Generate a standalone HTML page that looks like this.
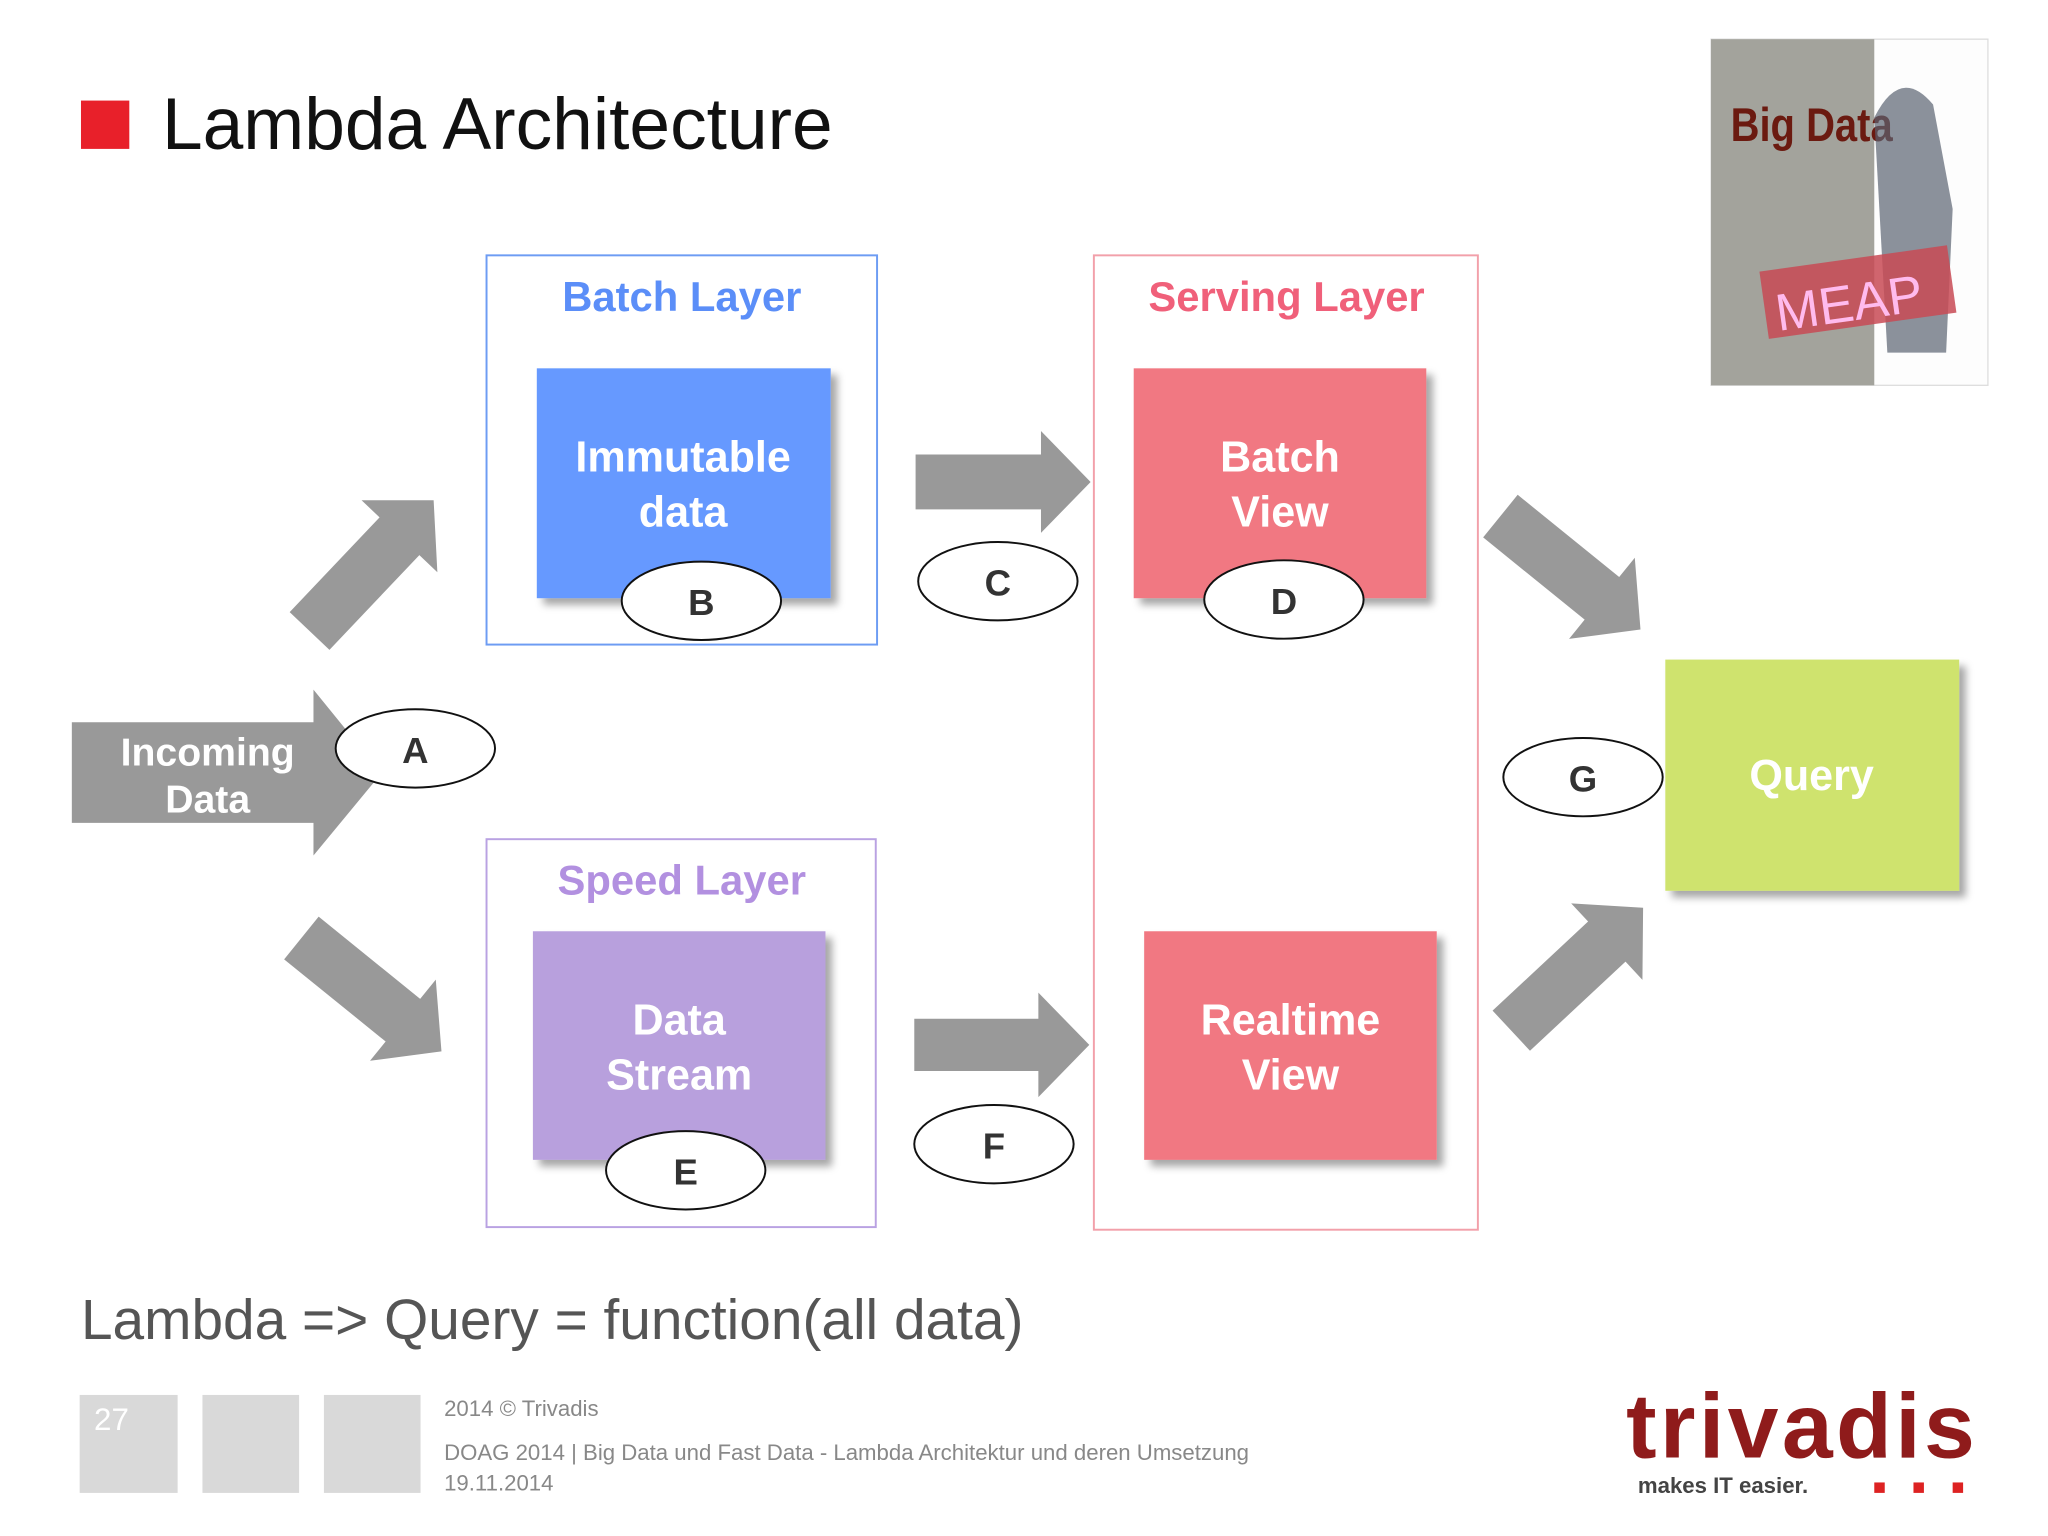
<!DOCTYPE html>
<html><head><meta charset="utf-8"><style>
html,body{margin:0;padding:0;background:#fff;}
svg{display:block;}
</style></head><body>
<svg width="2048" height="1536" viewBox="0 0 1568 1176" xmlns="http://www.w3.org/2000/svg" font-family="Liberation Sans, sans-serif">
<defs>
<filter id="sh" x="-10%" y="-10%" width="130%" height="130%"><feDropShadow dx="5" dy="5" stdDeviation="3" flood-color="#000" flood-opacity="0.35"/></filter>
<polygon id="ar" points="-138,-21 -38,-21 -38,-40 0,0 -38,40 -38,21 -138,21"/>
</defs>
<rect width="1568" height="1176" fill="#fff"/>
<rect x="62" y="77" width="37" height="37" fill="#e8202a"/>
<text x="124" y="114" font-size="56" fill="#111">Lambda Architecture</text>

<!-- book -->
<rect x="1310" y="30" width="212" height="265" fill="#fdfdfd" stroke="#ddd"/>
<rect x="1310" y="30" width="125" height="265" fill="#a3a39c"/>
<text x="1325" y="108" font-size="36" font-weight="bold" fill="#6b1a10" transform="scale(0.85,1)" transform-origin="1325 108">Big Data</text>
<path d="M1435 90 q20 -40 45 -10 l15 80 l-5 110 l-45 0 z" fill="#5a6270" opacity="0.7"/>
<rect x="1350" y="198" width="145" height="52" fill="#c84a55" opacity="0.85" transform="rotate(-8 1420 224)"/>
<text x="1358" y="245" font-size="40" fill="#fbe" transform="rotate(-8 1420 224)">MEAP</text>

<!-- Batch layer -->
<rect x="372.5" y="195.5" width="299" height="298" fill="#fff" stroke="#6d9cf3" stroke-width="1.5"/>
<text x="522" y="238" font-size="32" font-weight="bold" fill="#5b8ef8" text-anchor="middle">Batch Layer</text>
<rect x="411" y="282" width="225" height="176" fill="#6699ff" filter="url(#sh)"/>
<text x="523" y="361" font-size="33" font-weight="bold" fill="#fff" text-anchor="middle">Immutable</text>
<text x="523" y="403" font-size="33" font-weight="bold" fill="#fff" text-anchor="middle">data</text>
<ellipse cx="537" cy="460" rx="61" ry="30" fill="#fff" stroke="#111" stroke-width="1.5"/>
<text x="537" y="471" font-size="28" font-weight="bold" fill="#333" text-anchor="middle">B</text>

<!-- Serving layer -->
<rect x="837.5" y="195.5" width="294" height="746" fill="#fff" stroke="#f2a0aa" stroke-width="1.5"/>
<text x="985" y="238" font-size="32" font-weight="bold" fill="#f0607a" text-anchor="middle">Serving Layer</text>
<rect x="868" y="282" width="224" height="176" fill="#f17882" filter="url(#sh)"/>
<text x="980" y="361" font-size="33" font-weight="bold" fill="#fff" text-anchor="middle">Batch</text>
<text x="980" y="403" font-size="33" font-weight="bold" fill="#fff" text-anchor="middle">View</text>
<ellipse cx="983" cy="459" rx="61" ry="30" fill="#fff" stroke="#111" stroke-width="1.5"/>
<text x="983" y="470" font-size="28" font-weight="bold" fill="#333" text-anchor="middle">D</text>
<rect x="876" y="713" width="224" height="175" fill="#f17882" filter="url(#sh)"/>
<text x="988" y="792" font-size="33" font-weight="bold" fill="#fff" text-anchor="middle">Realtime</text>
<text x="988" y="834" font-size="33" font-weight="bold" fill="#fff" text-anchor="middle">View</text>

<!-- Speed layer -->
<rect x="372.5" y="642.5" width="298" height="297" fill="#fff" stroke="#b9a2e2" stroke-width="1.5"/>
<text x="522" y="685" font-size="32" font-weight="bold" fill="#b290e0" text-anchor="middle">Speed Layer</text>
<rect x="408" y="713" width="224" height="175" fill="#b8a0dd" filter="url(#sh)"/>
<text x="520" y="792" font-size="33" font-weight="bold" fill="#fff" text-anchor="middle">Data</text>
<text x="520" y="834" font-size="33" font-weight="bold" fill="#fff" text-anchor="middle">Stream</text>
<ellipse cx="525" cy="896" rx="61" ry="30" fill="#fff" stroke="#111" stroke-width="1.5"/>
<text x="525" y="907" font-size="28" font-weight="bold" fill="#333" text-anchor="middle">E</text>

<!-- Query -->
<rect x="1275" y="505" width="225" height="177" fill="#cfe36e" filter="url(#sh)"/>
<text x="1387" y="605" font-size="33" font-weight="bold" fill="#fff" text-anchor="middle">Query</text>

<!-- Arrows -->
<g fill="#999">
<polygon points="55,553 240,553 240,528 292,592 240,655 240,630 55,630"/>
<use href="#ar" transform="translate(332,383) rotate(-46.5)"/>
<use href="#ar" transform="translate(338,805) rotate(39)"/>
<use href="#ar" transform="translate(1256,482) rotate(39)"/>
<use href="#ar" transform="translate(1258,695) rotate(-43)"/>
<polygon points="701,348 797,348 797,330 835,369 797,408 797,390 701,390"/>
<polygon points="700,780 795,780 795,760 834,800 795,840 795,820 700,820"/>
</g>
<text x="159" y="586" font-size="30" font-weight="bold" fill="#fff" text-anchor="middle">Incoming</text>
<text x="159" y="622" font-size="30" font-weight="bold" fill="#fff" text-anchor="middle">Data</text>

<ellipse cx="318" cy="573" rx="61" ry="30" fill="#fff" stroke="#111" stroke-width="1.5"/>
<text x="318" y="584" font-size="28" font-weight="bold" fill="#333" text-anchor="middle">A</text>
<ellipse cx="764" cy="445" rx="61" ry="30" fill="#fff" stroke="#111" stroke-width="1.5"/>
<text x="764" y="456" font-size="28" font-weight="bold" fill="#333" text-anchor="middle">C</text>
<ellipse cx="761" cy="876" rx="61" ry="30" fill="#fff" stroke="#111" stroke-width="1.5"/>
<text x="761" y="887" font-size="28" font-weight="bold" fill="#333" text-anchor="middle">F</text>
<ellipse cx="1212" cy="595" rx="61" ry="30" fill="#fff" stroke="#111" stroke-width="1.5"/>
<text x="1212" y="606" font-size="28" font-weight="bold" fill="#333" text-anchor="middle">G</text>

<text x="62" y="1025" font-size="43.5" fill="#555">Lambda =&gt; Query = function(all data)</text>

<!-- footer -->
<rect x="61" y="1068" width="75" height="75" fill="#d9d9d9"/>
<rect x="155" y="1068" width="74" height="75" fill="#d9d9d9"/>
<rect x="248" y="1068" width="74" height="75" fill="#d9d9d9"/>
<text x="72" y="1095" font-size="24" fill="#fff">27</text>
<text x="340" y="1084" font-size="17" fill="#888">2014 © Trivadis</text>
<text x="340" y="1118" font-size="17" fill="#888">DOAG 2014 | Big Data und Fast Data - Lambda Architektur und deren Umsetzung</text>
<text x="340" y="1141" font-size="17" fill="#888">19.11.2014</text>
<text x="1245" y="1116" font-size="70" font-weight="bold" fill="#8f1b1b" textLength="267">trivadis</text>
<text x="1254" y="1143" font-size="17" font-weight="bold" fill="#444">makes IT easier.</text>
<rect x="1435" y="1135" width="8" height="8" fill="#d22"/>
<rect x="1465" y="1135" width="8" height="8" fill="#d22"/>
<rect x="1495" y="1135" width="8" height="8" fill="#d22"/>
</svg>
</body></html>
